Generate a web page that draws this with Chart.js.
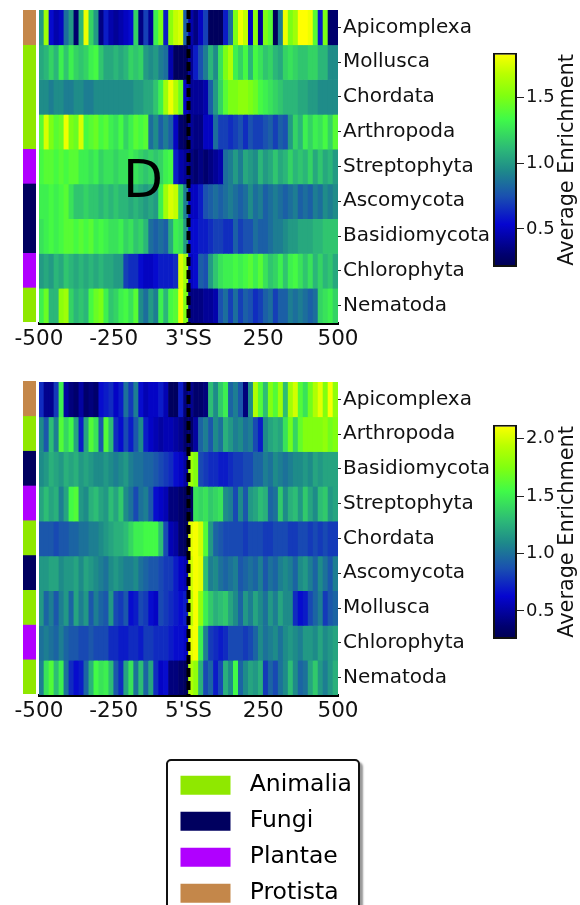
<!DOCTYPE html>
<html>
<head>
<meta charset="utf-8">
<style>
  body { margin: 0; background: #fff; width: 580px; height: 905px; overflow: hidden; position: relative; }
  canvas { position: absolute; }
  #legendBox { position: absolute; left: 166px; top: 759px; width: 190px; height: 170px; border: 2px solid #111; border-radius: 5px; box-shadow: 3px 3px 2px #999; background: #fff; }
</style>
</head>
<body>
<canvas id="heat3" width="495" height="369" style="left:0;top:-4px"></canvas>
<canvas id="strip3" width="13" height="312" style="left:23px;top:10px"></canvas>
<canvas id="bar3" width="90" height="240" style="left:490px;top:40px"></canvas>
<canvas id="heat5" width="495" height="369" style="left:0;top:368px"></canvas>
<canvas id="strip5" width="13" height="313" style="left:23px;top:381px"></canvas>
<canvas id="bar5" width="90" height="240" style="left:490px;top:412px"></canvas>
<div id="legendBox"><canvas id="legend" width="190" height="170" style="left:0;top:0"></canvas></div>
<script src="https://cdn.jsdelivr.net/npm/chart.js@4/dist/chart.umd.js"></script>
<script>
// 3' splice site panel, one array per row, 60 bins from -500 to 500
const apicomplexa3 = [
    1.0,1.6,.55,.45,.5,.85,1.0,.3,1.1,1.8,1.2,1.0,.35,.6,.45,.4,.45,.5,.55,1.2,
    .35,.7,.4,1.3,1.5,.6,1.55,1.7,1.75,.8,.45,.35,.5,.7,.25,.25,.25,.6,.85,1.5,
    1.8,1.7,.5,1.55,.4,1.5,1.4,.25,.9,1.8,1.5,1.6,1.85,1.85,1.8,1.4,.6,1.5,.3,.3];
const mollusca3 = [
    1.05,1.1,1.2,1.1,1.3,1.15,1.3,1.2,1.15,1.2,1.3,1.35,1.15,1.05,1.05,1.1,1.05,1.1,1.2,1.15,
    1.2,1.0,.95,1.0,.9,.85,.45,.25,.25,.25,.4,.6,.75,.9,1.1,.95,1.25,1.5,1.65,1.3,
    1.2,1.35,1.1,1.35,1.25,1.15,1.2,1.1,1.05,1.2,1.25,1.2,1.15,1.15,1.2,1.2,1.1,1.1,.95,.95];
const chordata3 = [
    .95,.95,.9,.95,.95,.9,.9,.95,.95,.9,.9,.95,.95,.95,.95,.95,.95,.95,.95,1.0,
    1.0,1.05,1.05,1.15,1.3,1.6,1.8,1.65,1.45,.5,.4,.4,.4,.45,.8,1.0,1.2,1.4,1.5,1.5,
    1.55,1.55,1.5,1.45,1.35,1.3,1.25,1.2,1.15,1.1,1.1,1.1,1.05,1.05,1.0,1.0,.95,.95,.95,.95];
const arthropoda3 = [
    1.4,1.75,1.5,1.4,1.45,1.8,1.5,1.45,1.75,1.35,1.4,1.45,1.35,1.4,1.3,1.25,1.35,1.2,1.3,1.4,
    1.35,1.4,.85,.95,.8,.9,.8,.5,.3,.25,.4,.35,.35,.5,.5,.85,.7,.7,.65,.7,
    .75,.65,.75,.7,.7,.75,.8,.7,.8,.75,1.0,1.2,1.1,1.3,1.2,1.3,1.25,1.35,1.2,1.4];
const streptophyta3 = [
    1.35,1.4,1.4,1.35,1.4,1.35,1.4,1.4,1.3,1.3,1.25,1.3,1.2,1.25,1.25,1.2,1.25,1.25,1.3,1.25,
    1.2,1.15,1.2,1.15,1.2,1.3,1.35,.6,.45,.4,.35,.3,.35,.3,.35,.4,.45,.85,.9,1.0,
    .9,1.05,1.0,.95,1.1,1.0,1.05,1.15,1.05,1.1,1.2,1.1,1.15,1.1,1.2,1.05,1.15,1.05,1.1,1.0];
const ascomycota3 = [
    1.3,1.3,1.35,1.3,1.35,1.4,1.25,1.15,1.15,1.2,1.15,1.15,1.1,1.15,1.1,1.15,1.1,1.1,1.05,1.1,
    1.05,1.0,1.05,1.0,1.3,1.6,1.75,1.7,1.2,.9,.5,.5,.6,.75,.8,.85,.8,.85,.9,.85,
    .8,.85,.95,.85,.9,.8,.85,.9,.85,.8,.85,.9,.8,.85,.8,.9,.85,.95,.9,.95];
const basidiomycota3 = [
    1.25,1.3,1.35,1.3,1.35,1.4,1.4,1.35,1.4,1.35,1.4,1.3,1.35,1.3,1.25,1.25,1.3,1.2,1.25,1.15,
    1.2,1.1,.85,.8,.85,.8,1.05,1.3,1.25,1.0,.55,.55,.6,.6,.65,.7,.7,.65,.65,.8,
    .7,.75,.75,.85,.8,.8,.85,.9,.9,.95,1.0,1.0,1.05,1.05,1.05,1.1,1.1,1.15,1.15,1.15];
const chlorophyta3 = [
    1.0,1.05,1.0,1.1,1.05,1.15,1.1,1.05,1.1,1.05,1.1,1.05,1.1,1.05,1.05,1.0,1.0,.7,.65,.65,
    .55,.5,.5,.55,.6,.6,.6,.65,1.75,1.6,.5,.55,.8,.75,1.0,1.15,1.25,1.3,1.3,1.35,
    1.3,1.35,1.4,1.3,1.4,1.25,1.15,1.2,1.3,1.15,1.3,1.35,1.25,1.15,1.25,1.1,1.2,1.1,1.15,1.05];
const nematoda3 = [
    1.3,1.45,1.1,1.1,1.55,1.6,1.2,1.1,1.15,1.1,1.35,1.45,1.5,1.3,1.15,1.2,1.3,1.35,1.25,1.4,
    .95,.85,1.0,.9,1.3,1.1,1.35,1.4,1.8,1.5,.35,.35,.35,.4,.4,.45,.75,.85,.7,.85,
    .7,.8,.75,.65,.7,.8,.85,.7,.8,.8,.9,.85,.9,.85,.8,.85,1.2,1.25,1.3,1.2];

// 5' splice site panel
const apicomplexa5 = [
    .75,.45,.45,.8,1.5,.5,.4,.35,.5,.35,.4,.35,.65,.7,.75,.6,.7,1.0,.8,1.05,
    .65,.55,.6,.6,.7,.55,.3,.3,.7,.4,.45,.35,.35,.4,1.3,1.1,1.35,1.5,.95,1.05,
    .9,.4,1.1,1.9,1.6,1.3,1.75,1.6,1.85,1.3,1.85,2.0,1.6,1.45,1.7,1.9,2.05,1.75,2.1,1.8];
const arthropoda5 = [
    1.1,.9,1.3,1.05,1.6,1.4,1.55,1.2,.7,1.2,1.6,1.45,.9,1.6,1.3,.75,.65,.85,.7,.9,
    1.1,.7,.6,.55,.5,.55,.55,.5,.45,.35,.35,.5,.95,1.05,.9,1.1,1.0,1.25,1.15,1.05,
    1.1,1.0,1.05,.85,.7,1.1,1.2,1.25,1.2,1.45,1.7,1.4,1.65,1.75,1.75,1.75,1.75,1.8,1.7,1.75];
const basidiomycota5 = [
    1.1,1.15,1.25,1.2,1.15,1.25,1.2,1.25,1.15,1.2,1.15,1.1,1.1,1.15,1.1,1.05,1.1,1.15,1.05,1.0,
    1.0,.95,.95,.9,.85,.8,.75,.65,.6,.5,1.85,1.75,.85,.8,.75,.75,.7,.7,.75,.8,
    .8,.85,.85,.95,.95,1.05,1.0,1.1,1.05,1.0,1.05,1.1,1.1,1.15,1.1,1.2,1.15,1.2,1.2,1.2];
const streptophyta5 = [
    1.2,1.3,1.2,1.25,1.05,1.2,1.55,1.6,1.15,1.1,1.25,1.3,1.2,1.15,1.3,1.2,1.35,1.1,1.0,.85,
    1.0,1.05,.9,.65,.6,.55,.4,.4,.35,.3,.3,1.45,1.4,1.45,1.35,1.4,1.45,1.1,1.05,.85,
    1.1,.9,1.15,1.2,1.3,1.25,.95,1.0,1.35,1.1,1.25,1.3,1.15,1.35,1.2,1.1,1.3,1.35,1.15,1.2];
const chordata5 = [
    .9,.9,.9,.85,.9,.9,.95,.95,1.0,1.0,1.05,1.05,1.1,1.15,1.2,1.25,1.25,1.3,1.4,1.5,
    1.5,1.55,1.55,1.55,1.3,.85,.55,.5,.35,.3,2.05,2.1,2.0,1.6,1.15,.95,.9,.85,.85,.85,
    .85,.8,.85,.85,.85,.8,.8,.85,.85,.85,.8,.8,.85,.85,.8,.85,.8,.85,.8,.8];
const ascomycota5 = [
    1.15,1.15,1.2,1.2,1.1,1.15,1.15,1.2,1.1,1.2,1.15,1.1,1.05,1.0,1.1,1.15,1.1,1.05,1.05,1.1,
    1.0,.95,.9,.9,.85,.8,.8,.7,.6,.55,2.0,2.1,2.05,1.3,1.05,1.1,1.0,.95,1.0,1.05,
    .9,.95,1.0,.95,1.05,.9,1.0,.95,1.05,1.1,1.05,.95,1.1,1.15,1.05,.95,1.1,1.0,.9,1.05];
const mollusca5 = [
    1.15,.95,1.05,.9,1.05,1.15,.95,1.2,1.05,1.15,.9,1.05,.95,.9,1.15,.85,.8,.9,.65,.7,
    .85,.8,.65,.6,.85,.8,.75,.7,.65,.7,1.95,2.1,1.8,1.5,1.35,1.25,1.3,1.35,1.2,1.1,
    .95,1.15,1.05,1.2,1.1,1.0,1.15,1.05,1.2,1.1,1.1,.75,.65,.7,.85,.95,1.05,.8,.9,.95];
const chlorophyta5 = [
    1.0,1.05,1.0,.95,1.05,.95,.9,.9,.85,.85,.9,.85,.85,.85,.75,.75,.7,.7,.75,.75,
    .7,.8,.8,.75,.75,.75,.7,.65,.65,.6,2.05,2.1,1.5,1.05,.8,.75,.7,.75,.85,.85,
    .85,.8,.85,.95,1.1,1.0,1.05,1.1,1.0,1.1,1.15,1.1,1.05,1.15,1.15,1.1,1.2,1.1,1.15,1.2];
const nematoda5 = [
    1.05,1.45,1.6,1.3,1.5,1.0,.75,.65,.7,.95,1.25,1.55,1.45,1.5,1.3,.9,.75,1.2,1.45,1.0,
    1.3,.95,1.2,.75,.6,.65,.4,.4,.35,.3,1.9,1.8,1.25,.85,.95,.7,.85,1.25,1.1,1.55,
    .95,1.1,1.2,1.15,1.25,.8,.95,.85,1.0,1.1,1.3,1.1,.95,1.0,1.2,1.35,1.15,1.05,1.15,1.25];

const rows3 = ['Apicomplexa', 'Mollusca', 'Chordata', 'Arthropoda', 'Streptophyta', 'Ascomycota', 'Basidiomycota', 'Chlorophyta', 'Nematoda'];
const kingdoms3 = ['Protista', 'Animalia', 'Animalia', 'Animalia', 'Plantae', 'Fungi', 'Fungi', 'Plantae', 'Animalia'];
const values3 = [apicomplexa3, mollusca3, chordata3, arthropoda3, streptophyta3, ascomycota3, basidiomycota3, chlorophyta3, nematoda3];

const rows5 = ['Apicomplexa', 'Arthropoda', 'Basidiomycota', 'Streptophyta', 'Chordata', 'Ascomycota', 'Mollusca', 'Chlorophyta', 'Nematoda'];
const kingdoms5 = ['Protista', 'Animalia', 'Fungi', 'Plantae', 'Animalia', 'Fungi', 'Animalia', 'Plantae', 'Animalia'];
const values5 = [apicomplexa5, arthropoda5, basidiomycota5, streptophyta5, chordata5, ascomycota5, mollusca5, chlorophyta5, nematoda5];

const kingdomNames = ['Animalia', 'Fungi', 'Plantae', 'Protista'];
const kingdomColors = ['#8fe800', '#00005f', '#b000ff', '#c4874a'];

const xTicks3 = { '-500': '-500', '-250': '-250', '0': "3'SS", '250': '250', '500': '500' };
const xTicks5 = { '-500': '-500', '-250': '-250', '0': "5'SS", '250': '250', '500': '500' };

// colormap stops, low to high
const cmapStops = [
    [0, '#000050'], [.06, '#000070'], [.2, '#0505d0'], [.33, '#1a50b0'], [.45, '#1e8a8a'],
    [.55, '#2cb878'], [.69, '#40fa48'], [.8, '#80ff10'], [.9, '#b8ff00'], [1, '#ffff00'],
];

const FONT = '"DejaVu Sans"';
const INK = '#111';

function hexRgb(h) {
    return [1, 3, 5].map(i => parseInt(h.substr(i, 2), 16));
}

function heatColor(v, lo, hi) {
    const t = Math.min(1, Math.max(0, (v - lo) / (hi - lo)));
    for (let i = 1; i < cmapStops.length; i++) {
        if (t <= cmapStops[i][0]) {
            const [t0, c0] = cmapStops[i - 1];
            const [t1, c1] = cmapStops[i];
            const f = (t - t0) / (t1 - t0);
            const a = hexRgb(c0), b = hexRgb(c1);
            return 'rgb(' + a.map((x, k) => Math.round(x + (b[k] - x) * f)).join(',') + ')';
        }
    }
    return cmapStops[cmapStops.length - 1][1];
}

const letterPlugin = {
    id: 'letter',
    afterDraw(chart) {
        const ctx = chart.ctx;
        ctx.save();
        ctx.font = '52px ' + FONT;
        ctx.fillStyle = '#000';
        ctx.textAlign = 'center';
        ctx.textBaseline = 'middle';
        ctx.fillText('D', 143, 187);
        ctx.restore();
    }
};

function heatChart(id, rows, values, xTicks, lo, hi, plugins) {
    const nBins = values[0].length;
    const binCentres = values[0].map((_, j) => -500 + (j + .5) * 1000 / nBins);
    const datasets = values.map((row, i) => ({
        data: row.map((_, j) => ({ x: binCentres[j], y: [i, i + 1] })),
        backgroundColor: row.map(v => heatColor(v, lo, hi)),
        borderWidth: 0,
        barPercentage: 1,
        categoryPercentage: 1,
        grouped: false,
    }));
    datasets.push({
        type: 'line',
        data: [{ x: 0, y: 0 }, { x: 0, y: rows.length }],
        borderColor: '#000',
        borderWidth: 4,
        borderDash: [9, 4],
        pointRadius: 0,
        order: -1,
    });
    return new Chart(document.getElementById(id), {
        type: 'bar',
        data: { datasets },
        plugins: plugins || [],
        options: {
            responsive: false,
            animation: false,
            layout: { padding: { left: 39, top: 14, right: 0, bottom: 0 } },
            plugins: { legend: { display: false }, tooltip: { enabled: false } },
            scales: {
                x: {
                    type: 'linear',
                    min: -500,
                    max: 500,
                    offset: false,
                    afterFit: s => { s.height = 42; },
                    afterBuildTicks: s => { s.ticks = Object.keys(xTicks).map(k => ({ value: +k })); },
                    border: { color: '#000', width: 3 },
                    grid: { drawOnChartArea: false, drawTicks: false },
                    ticks: {
                        autoSkip: false,
                        maxRotation: 0,
                        padding: 4,
                        color: INK,
                        font: { family: FONT, size: 21.5 },
                        callback: v => xTicks[v],
                    },
                },
                y: {
                    type: 'linear',
                    position: 'right',
                    reverse: true,
                    min: 0,
                    max: rows.length,
                    afterFit: s => { s.width = 157; },
                    afterBuildTicks: s => { s.ticks = rows.map((_, i) => ({ value: i + .5 })); },
                    border: { display: false },
                    grid: { drawOnChartArea: false, tickLength: 3, color: '#222', tickWidth: 1 },
                    ticks: {
                        autoSkip: false,
                        padding: 2,
                        color: INK,
                        font: { family: FONT, size: 20 },
                        callback: (v, i) => rows[i],
                    },
                },
            },
        },
    });
}

function kingdomStrip(id, kingdoms) {
    return new Chart(document.getElementById(id), {
        type: 'bar',
        data: {
            labels: ['kingdom'],
            datasets: kingdoms.map((k, i) => ({
                data: [[i, i + 1]],
                backgroundColor: kingdomColors[kingdomNames.indexOf(k)],
                borderWidth: 0,
                barPercentage: 1,
                categoryPercentage: 1,
                grouped: false,
            })),
        },
        options: {
            responsive: false,
            animation: false,
            plugins: { legend: { display: false }, tooltip: { enabled: false } },
            scales: {
                x: { display: false },
                y: { display: false, reverse: true, min: 0, max: kingdoms.length },
            },
        },
    });
}

function colorBar(id, lo, hi) {
    return new Chart(document.getElementById(id), {
        type: 'bar',
        data: {
            labels: ['scale'],
            datasets: [{
                data: [[lo, hi]],
                backgroundColor: ctx => {
                    const area = ctx.chart.chartArea;
                    if (!area) return '#000';
                    const g = ctx.chart.ctx.createLinearGradient(0, area.bottom, 0, area.top);
                    cmapStops.forEach(([t, c]) => g.addColorStop(t, c));
                    return g;
                },
                borderColor: '#111',
                borderWidth: 2,
                borderSkipped: false,
                inflateAmount: 0,
                barPercentage: 1,
                categoryPercentage: 1,
            }],
        },
        plugins: [{
            id: 'barTitle',
            afterDraw(chart) {
                const ctx = chart.ctx;
                const a = chart.chartArea;
                ctx.save();
                ctx.translate(78, (a.top + a.bottom) / 2);
                ctx.rotate(-Math.PI / 2);
                ctx.font = '20.8px ' + FONT;
                ctx.fillStyle = INK;
                ctx.textAlign = 'center';
                ctx.textBaseline = 'middle';
                ctx.fillText('Average Enrichment', 0, 0);
                ctx.restore();
            }
        }],
        options: {
            responsive: false,
            animation: false,
            layout: { padding: { left: 3, top: 10, bottom: 13 } },
            plugins: { legend: { display: false }, tooltip: { enabled: false } },
            scales: {
                x: { display: false },
                y: {
                    position: 'right',
                    min: lo,
                    max: hi,
                    afterFit: s => { s.width = 63; },
                    border: { display: false },
                    grid: { drawOnChartArea: false, tickLength: 7, color: '#222' },
                    ticks: {
                        stepSize: .5,
                        includeBounds: false,
                        padding: 2,
                        color: INK,
                        font: { family: FONT, size: 18 },
                        callback: v => v.toFixed(1),
                    },
                },
            },
        },
    });
}

heatChart('heat3', rows3, values3, xTicks3, .21, 1.84, [letterPlugin]);
kingdomStrip('strip3', kingdoms3);
colorBar('bar3', .21, 1.84);

heatChart('heat5', rows5, values5, xTicks5, .256, 2.12);
kingdomStrip('strip5', kingdoms5);
colorBar('bar5', .256, 2.12);

new Chart(document.getElementById('legend'), {
    type: 'bar',
    data: {
        labels: [],
        datasets: kingdomNames.map((k, i) => ({ label: ' ' + k, data: [], backgroundColor: kingdomColors[i], borderWidth: 0 })),
    },
    options: {
        responsive: false,
        animation: false,
        plugins: {
            tooltip: { enabled: false },
            legend: {
                position: 'left',
                align: 'start',
                maxWidth: 190,
                labels: {
                    boxWidth: 50,
                    boxHeight: 19,
                    padding: 7,
                    color: '#000',
                    font: { family: FONT, size: 23.5 },
                },
            },
        },
        scales: { x: { display: false }, y: { display: false } },
    },
    plugins: [{
        id: 'legendRows',
        beforeInit(chart) {
            chart.options.plugins.legend.labels.padding = 12.5;
        }
    }],
});
</script>
</body>
</html>
